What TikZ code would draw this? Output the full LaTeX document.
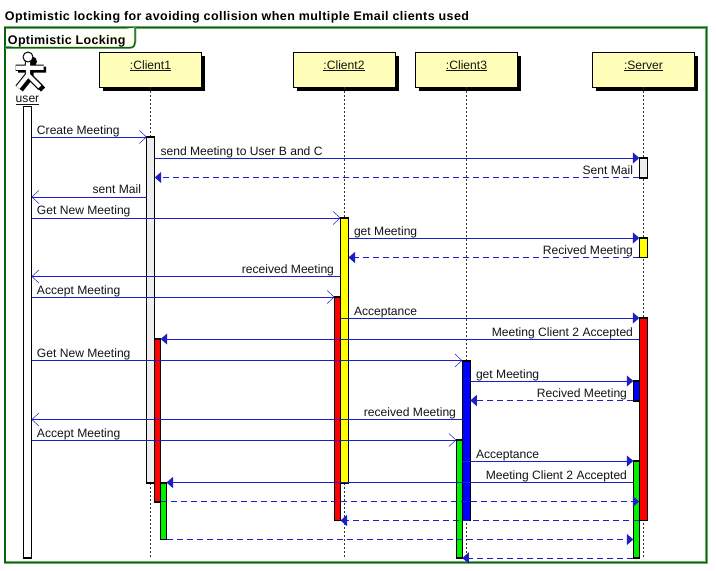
\documentclass[tikz,border=0pt]{standalone}
\usepackage{fontspec}
\setmainfont{Liberation Sans}
\usetikzlibrary{arrows.meta}
\definecolor{seqblue}{HTML}{1E1EC8}
\definecolor{framegreen}{HTML}{0A640A}
\definecolor{framesoft}{HTML}{6FA86F}
\definecolor{tabfill}{HTML}{FFFFF2}
\definecolor{headfill}{HTML}{FFFFB9}
\definecolor{barwhite}{HTML}{FFFFFF}
\definecolor{bargrey}{HTML}{EEEEEE}
\definecolor{barred}{HTML}{FF0000}
\definecolor{baryellow}{HTML}{FFFF00}
\definecolor{barblue}{HTML}{0000FF}
\definecolor{bargreen}{HTML}{00F000}
\tikzset{
  x=1pt,y=-1pt,
  lbl/.style={font=\fontsize{12.1}{13}\selectfont,inner sep=0pt,outer sep=0pt,text=black!92},
  lblL/.style={lbl,anchor=base west},
  lblR/.style={lbl,anchor=base east},
  headbox/.style={draw=black,line width=1pt,fill=headfill,minimum width=102pt,minimum height=35pt,inner sep=0pt,outer sep=0pt},
  headshadow/.style={fill=black,minimum width=102pt,minimum height=35pt,inner sep=0pt,outer sep=0pt},
  headtext/.style={lbl,anchor=base},
  lifeline/.style={draw=black!80,line width=.8pt,dash pattern=on 2pt off 2pt},
  actbox/.style={draw=black,line width=1.1pt,inner sep=0pt,outer sep=0pt},
  msgline/.style={draw=seqblue,line width=1pt},
  sync/.style={msgline,-{Triangle[length=6.5pt,width=11pt,fill=seqblue]}},
  open/.style={msgline,-{Straight Barb[length=7pt,width=13pt,line width=.5pt]}},
  ret/.style={msgline,dash pattern=on 6pt off 4pt,-{Triangle[length=6.5pt,width=11pt,fill=seqblue]}},
}
\newcommand{\actbar}[6]{\node[actbox,fill=#6,minimum width={(#4-#2)*1pt},minimum height={(#5-#3)*1pt}] (#1) at ({(#2+#4)/2},{(#3+#5)/2}) {};}
\newcommand{\headbox}[3]{%
  \node[headshadow] (#1s) at (#2+54.5,73) {};
  \node[headbox] (#1) at (#2+51,69.8) {};
  \node[headtext] (#1t) at (#2+51,69) {\underline{#3}};
  \coordinate (#1x) at (#2+51,0);
}
\newcommand{\actorlimbs}{(15.5,67.7) -- (43.5,67.7) (28,60) -- (28,75) -- (18,87.5) (28,75) -- (40.5,87.5)}
\begin{document}
\begin{tikzpicture}
\useasboundingbox (0,0) rectangle (716,571);
\fill[white] (0,0) rectangle (716,571);
% title
\node[lblL,text=black,font=\fontsize{12.5}{13}\bfseries\addfontfeature{LetterSpace=3.4}] (title) at (5,20) {Optimistic locking for avoiding collision when multiple Email clients used};
% frame
\foreach \w/\c in {2.6/framesoft,1.3/framegreen}{
  \draw[draw=\c,line width=\w pt] (5,27.7) rectangle (706.7,562.5);
}
\foreach \w/\c in {2.6/framesoft,1.3/framegreen}{
  \draw[draw=\c,line width=\w pt,fill=tabfill] (5,47.5) -- (130,47.5) .. controls (133.5,47.5) and (135,45) .. (135,42) -- (135,27.7);
}
\node[lblL,text=black,font=\fontsize{12.5}{13}\bfseries\addfontfeature{LetterSpace=2.5}] (frametitle) at (8,44) {Optimistic Locking};
% headers
\headbox{cA}{99.5}{:Client1}
\headbox{cB}{293}{:Client2}
\headbox{cC}{415.5}{:Client3}
\headbox{srv}{592.5}{:Server}
% lifelines
\coordinate (llEnd) at (0,558);
\draw[lifeline] (cA.south) -- (cA.south |- llEnd);
\draw[lifeline] (cB.south) -- (cB.south |- llEnd);
\draw[lifeline] (cC.south) -- (cC.south |- llEnd);
\draw[lifeline] (srv.south) -- (srv.south |- llEnd);
% actor
\begin{scope}[line cap=butt,line join=round]
  \draw[black,line width=6pt,shift={(2.5,2)}] \actorlimbs;
  \fill[black] (32,61.5) circle (5pt);
  \draw[black,line width=6.4pt] \actorlimbs;
  \draw[white,line width=4.2pt,shorten >=.9pt] \actorlimbs;
  \draw[black,line width=1pt,fill=white] (28,57) circle (5pt);
\end{scope}
% activation bars
\actbar{uA}{23.5}{106.5}{31.5}{558}{barwhite}
\actbar{aGrey}{146.7}{137}{154.7}{483}{bargrey}
\actbar{aRed}{154.7}{339}{160.7}{502}{barred}
\actbar{aGreen}{160.7}{483}{166.5}{539.5}{bargreen}
\actbar{bRed}{334.5}{297}{340.5}{520.5}{barred}
\actbar{bYellow}{340.5}{218}{348.5}{483}{baryellow}
\actbar{cBlue}{462.3}{361}{470.3}{520.5}{barblue}
\actbar{cGreen}{456.3}{440}{462.3}{558}{bargreen}
\actbar{sGrey}{639.3}{158}{647.3}{178}{bargrey}
\actbar{sYellow}{639.3}{238}{647.3}{257.5}{baryellow}
\actbar{sRed}{639.3}{318}{647.3}{520.5}{barred}
\actbar{sBlue}{633.3}{381}{639.3}{401}{barblue}
\actbar{sGreen}{633.3}{461}{639.3}{558}{bargreen}
\node[lbl,anchor=base] (usert) at (27.5,102.8) {user};
\draw[black!92,line width=.8pt] (usert.west |- 0,104.6) -- (usert.east |- 0,104.6);
% rows
\foreach \n/\y in {r1/137,r2/158,r3/177.5,r4/197,r5/218,r6/238,r7/257.5,r8/276.5,r9/297,r10/318,r11/339,r12/360.5,r13/381,r14/400.5,r15/419.5,r16/440,r17/461,r18/482.5,r19/501.5,r20/520.5,r21/539.5,r22/558}{\coordinate (\n) at (0,\y);}
% messages
\draw[open] (uA.east |- r1) -- (aGrey.west |- r1);
\draw[sync] (aGrey.east |- r2) -- (sGrey.west |- r2);
\draw[ret] (sGrey.west |- r3) -- (aGrey.east |- r3);
\draw[open] (aGrey.west |- r4) -- (uA.east |- r4);
\draw[open] (uA.east |- r5) -- (bYellow.west |- r5);
\draw[sync] (bYellow.east |- r6) -- (sYellow.west |- r6);
\draw[ret] (sYellow.west |- r7) -- (bYellow.east |- r7);
\draw[open] (bYellow.west |- r8) -- (uA.east |- r8);
\draw[open] (uA.east |- r9) -- (bRed.west |- r9);
\draw[sync] (bYellow.west |- r10) -- (sRed.west |- r10);
\draw[sync] (sRed.west |- r11) -- (aRed.east |- r11);
\draw[open] (uA.east |- r12) -- (cBlue.west |- r12);
\draw[sync] (cBlue.east |- r13) -- (sBlue.west |- r13);
\draw[ret] (sBlue.west |- r14) -- (cBlue.east |- r14);
\draw[open] (cBlue.west |- r15) -- (uA.east |- r15);
\draw[open] (uA.east |- r16) -- (cGreen.west |- r16);
\draw[sync] (cGreen.east |- r17) -- (sGreen.west |- r17);
\draw[sync] (sGreen.west |- r18) -- (aGreen.east |- r18);
\draw[ret] (aRed.east |- r19) -- (sGreen.east |- r19);
\draw[ret] (sRed.west |- r20) -- (bRed.east |- r20);
\draw[ret] (aGreen.east |- r21) -- (sGreen.west |- r21);
\draw[ret] (sGreen.west |- r22) -- (cGreen.east |- r22);
% labels
\node[lblL] (t1) at (37,134) {Create Meeting};
\node[lblL] (t2) at (160.5,155) {send Meeting to User B and C};
\node[lblR] (t3) at (633,174) {Sent Mail};
\node[lblR] (t4) at (141,193.5) {sent Mail};
\node[lblL] (t5) at (37,214) {Get New Meeting};
\node[lblL] (t6) at (354,235) {get Meeting};
\node[lblR] (t7) at (633,254) {Recived Meeting};
\node[lblR] (t8) at (334,273) {received Meeting};
\node[lblL] (t9) at (37,294) {Accept Meeting};
\node[lblL] (t10) at (354,315) {Acceptance};
\node[lblR] (t11) at (633,336) {Meeting Client 2 Accepted};
\node[lblL] (t12) at (37,357) {Get New Meeting};
\node[lblL] (t13) at (476,378) {get Meeting};
\node[lblR] (t14) at (627,397) {Recived Meeting};
\node[lblR] (t15) at (456,416) {received Meeting};
\node[lblL] (t16) at (37,437) {Accept Meeting};
\node[lblL] (t17) at (476,458) {Acceptance};
\node[lblR] (t18) at (627,479) {Meeting Client 2 Accepted};
\end{tikzpicture}
\end{document}
